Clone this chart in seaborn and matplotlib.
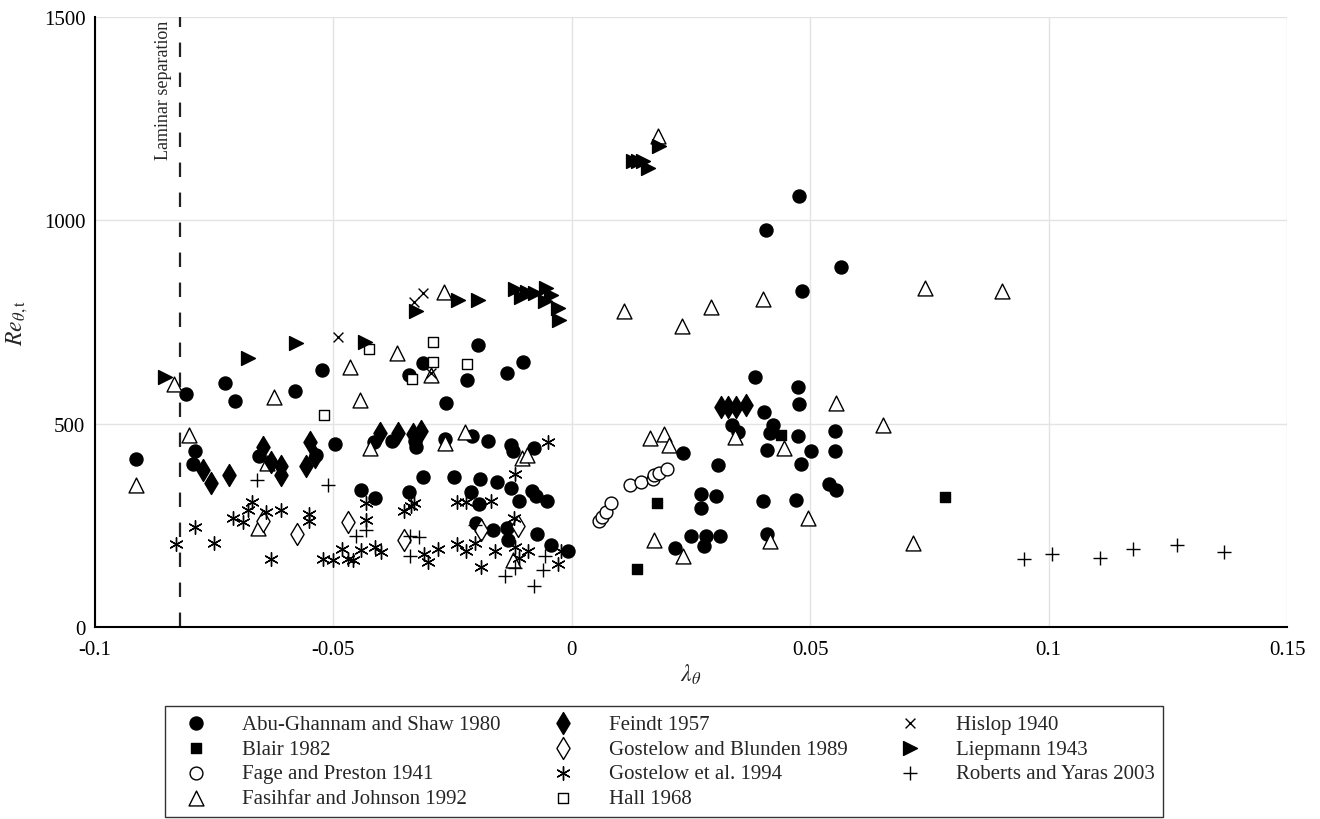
import matplotlib
matplotlib.use("Agg")
import matplotlib.pyplot as plt
import matplotlib.ticker as mticker
import seaborn as sns

# Data (lambda_theta, Re_theta_t)
abu_x = [-0.0915, -0.081, -0.0727, -0.0706, -0.079, -0.0794, -0.0657,
         -0.0196, -0.0525, -0.0312, -0.0342, -0.022, -0.058, -0.0263, -0.0496,
         -0.0415, -0.0377, -0.0328, -0.0326, -0.0265, -0.021, -0.0176, -0.0537,
         -0.0312, -0.0248, -0.0193, -0.0443, -0.0412, -0.0342, -0.0212, -0.0195,
         -0.0201, -0.0103, -0.0135, -0.0127, -0.0124, -0.008, -0.0156, -0.0127,
         -0.0084, -0.0075, -0.0052, -0.011, -0.0165, -0.0135, -0.0073, -0.0134,
         -0.0043, -0.0008, 0.0233, 0.0217, 0.0384, 0.0475, 0.0477, 0.0403,
         0.0336, 0.0348, 0.0421, 0.0416, 0.0475, 0.0551, 0.0551, 0.0502, 0.0409,
         0.0481, 0.0306, 0.0539, 0.0554, 0.0271, 0.0303, 0.027, 0.0402, 0.047,
         0.0249, 0.0282, 0.031, 0.0278, 0.0409, 0.0483, 0.0565, 0.0477, 0.0407]
abu_y = [413, 573, 600, 557, 432, 402, 421,
         694, 631, 649, 619, 608, 581, 552, 451,
         454, 458, 457, 444, 462, 469, 457, 424,
         368, 368, 365, 336, 317, 332, 332, 303,
         256, 651, 624, 448, 432, 440, 356, 342,
         334, 322, 309, 309, 240, 244, 228, 214,
         203, 187, 428, 195, 616, 590, 549, 530,
         498, 479, 498, 477, 469, 481, 434, 434, 436,
         402, 399, 352, 336, 327, 322, 293, 309, 313,
         225, 225, 225, 199, 230, 827, 885, 1060, 976]

blair_x = [0.0439, 0.0179, 0.0137, 0.0783]
blair_y = [473, 304, 144, 321]

fage_x = [0.0057, 0.0064, 0.0072, 0.0083, 0.0122, 0.0145, 0.017, 0.0173, 0.0182, 0.02]
fage_y = [260, 271, 282, 305, 349, 356, 364, 373, 379, 389]

fasih_x = [-0.0835, -0.0625, -0.0803, -0.0915, -0.064, -0.0658,
           -0.0367, -0.0466, -0.0296, -0.0445, -0.0424, -0.0265, -0.0225,
           -0.0105, -0.0094, -0.0124, 0.0163, 0.0193, 0.0203, 0.0173, 0.0234,
           0.0554, 0.0653, 0.0342, 0.0444, 0.0495, 0.0415,
           -0.0269, 0.011, 0.0231, 0.0291, 0.0401, 0.018, 0.0741, 0.0902, 0.0716]
fasih_y = [598, 567, 473, 350, 403, 244,
           675, 639, 619, 559, 440, 452, 480,
           416, 424, 166, 465, 476, 447, 213, 174,
           552, 497, 467, 440, 268, 211,
           825, 777, 740, 788, 806, 1207, 833, 827, 207]

feindt_x = [-0.0773, -0.0756, -0.072, -0.0648, -0.0631, -0.061, -0.0609,
            -0.055, -0.0402, -0.0365, -0.0333, -0.0316, -0.0539, -0.0557,
            0.0313, 0.0327, 0.0345, 0.0365]
feindt_y = [387, 354, 375, 443, 405, 395, 373,
            456, 477, 477, 475, 481, 418, 395,
            542, 542, 542, 547]

blunden_x = [-0.0647, -0.0576, -0.047, -0.0352, -0.019, -0.0113]
blunden_y = [261, 230, 258, 213, 240, 248]

gost_x = [-0.067, -0.068, -0.0711, -0.069, -0.0641, -0.061, -0.079, -0.0831, -0.075, -0.063,
          -0.0431, -0.0431, -0.0351, -0.0338, -0.033, -0.0241, -0.0221, -0.0552, -0.0552,
          -0.0522, -0.0501, -0.0482, -0.047, -0.0459, -0.0442, -0.0412, -0.04, -0.0309,
          -0.0302, -0.0281, -0.0241, -0.0221, -0.0204, -0.0191,
          -0.005, -0.012, -0.017, -0.0122, -0.0162, -0.012, -0.0092, -0.0111, -0.003, -0.0022]
gost_y = [307, 289, 268, 258, 282, 289, 246, 204, 207, 168,
          304, 263, 285, 297, 305, 308, 307, 277, 260,
          168, 166, 191, 168, 165, 189, 197, 184, 181,
          160, 191, 205, 186, 207, 148,
          454, 377, 309, 268, 187, 196, 187, 170, 154, 187]

hall_x = [-0.0426, -0.0291, -0.0291, -0.022, -0.0335, -0.052]
hall_y = [683, 702, 653, 647, 611, 521]

hislop_x = [-0.049, -0.0296, -0.0312, -0.0331]
hislop_y = [714, 624, 822, 800]

liep_x = [-0.0854, -0.0679, -0.0578, -0.0434, -0.0327, -0.0239, -0.0197, -0.0119,
          -0.0106, -0.0094, -0.0078, -0.0054, -0.0057, -0.0043, -0.0028, -0.0026,
          0.0182, 0.0128, 0.0138, 0.0149, 0.0159]
liep_y = [616, 661, 698, 700, 777, 804, 804, 831,
          811, 825, 822, 835, 803, 817, 784, 755,
          1182, 1146, 1146, 1146, 1130]

rob_x = [-0.066, -0.0511, -0.0452, -0.0431, -0.034, -0.0321, -0.034, -0.0141, -0.012,
         -0.0061, -0.0057, -0.008, -0.0204, 0.0949, 0.1008, 0.1108, 0.1178, 0.1269, 0.1368]
rob_y = [362, 350, 223, 240, 223, 222, 176, 126, 146,
         140, 176, 100, 252, 168, 179, 170, 191, 201, 185]

laminar_sep = -0.0822

sns.set_style("white")
plt.rcParams["font.family"] = ["Liberation Serif", "DejaVu Serif"]
plt.rcParams["mathtext.fontset"] = "stix"
plt.rcParams["axes.unicode_minus"] = False

fig = plt.figure(figsize=(13.2, 8.2), dpi=100)
ax = fig.add_axes([0.072, 0.234, 0.903, 0.744])

series = [
    ("Abu-Ghannam and Shaw 1980", abu_x, abu_y, "o", 88, "black"),
    ("Blair 1982", blair_x, blair_y, "s", 45, "black"),
    ("Fage and Preston 1941", fage_x, fage_y, "o", 85, "white"),
    ("Fasihfar and Johnson 1992", fasih_x, fasih_y, "^", 115, "white"),
    ("Feindt 1957", feindt_x, feindt_y, "d", 125, "black"),
    ("Gostelow and Blunden 1989", blunden_x, blunden_y, "d", 125, "white"),
    ("Gostelow et al. 1994", gost_x, gost_y, (6, 2, 0), 95, None),
    ("Hall 1968", hall_x, hall_y, "s", 45, "white"),
    ("Hislop 1940", hislop_x, hislop_y, "x", 50, None),
    ("Liepmann 1943", liep_x, liep_y, ">", 100, "black"),
    ("Roberts and Yaras 2003", rob_x, rob_y, "+", 110, None),
]

for i, (name, xs, ys, mk, size, face) in enumerate(series):
    if face is None:
        sns.scatterplot(x=xs, y=ys, ax=ax, marker=mk, s=size, color="black",
                        linewidth=1.0, label=name, zorder=3 + i)
    else:
        sns.scatterplot(x=xs, y=ys, ax=ax, marker=mk, s=size, color="black",
                        facecolor=face, edgecolor="black", linewidth=1.0,
                        label=name, zorder=3 + i)

ax.axvline(laminar_sep, color="#222222", lw=1.6, dashes=(6.5, 7), zorder=2)
ax.text(laminar_sep - 0.0017, 1494, "Laminar separation", rotation=90,
        ha="right", va="top", fontsize=13)

ax.set_xlim(-0.1, 0.15)
ax.set_ylim(0, 1500)
ax.xaxis.set_major_locator(mticker.MultipleLocator(0.05))
ax.xaxis.set_minor_locator(mticker.MultipleLocator(0.01))
ax.yaxis.set_major_locator(mticker.MultipleLocator(500))
ax.yaxis.set_minor_locator(mticker.MultipleLocator(100))
ax.xaxis.set_major_formatter(mticker.FuncFormatter(lambda v, p: "%g" % round(v, 4)))
ax.tick_params(which="both", direction="in", labelsize=15, top=False, right=False,
               colors="black")
ax.tick_params(axis="x", pad=9)
ax.tick_params(axis="y", pad=7)
ax.tick_params(which="major", length=12, width=1)
ax.tick_params(which="minor", length=6, width=1)
ax.grid(True, which="major", color="#e3e3e3", lw=1)
ax.set_axisbelow(True)
for side in ["top", "right"]:
    ax.spines[side].set_visible(False)
for side in ["left", "bottom"]:
    ax.spines[side].set_color("black")
    ax.spines[side].set_linewidth(1.5)

ax.set_xlabel(r"$\lambda_\theta$", fontsize=17, labelpad=2)
ax.set_ylabel(r"$Re_{\theta,\mathrm{t}}$", fontsize=17, labelpad=10)

handles, labels = ax.get_legend_handles_labels()
ax.get_legend().remove()
leg = fig.legend(handles, labels, loc="lower center", bbox_to_anchor=(0.503, 0.003),
                 ncol=3, fontsize=15, frameon=True, fancybox=False, edgecolor="black",
                 handlelength=2.2, handletextpad=1.1, columnspacing=1.9,
                 labelspacing=0.25, borderpad=0.4, borderaxespad=0)
leg.get_frame().set_linewidth(1.0)

fig.savefig("out.png", dpi=100)
